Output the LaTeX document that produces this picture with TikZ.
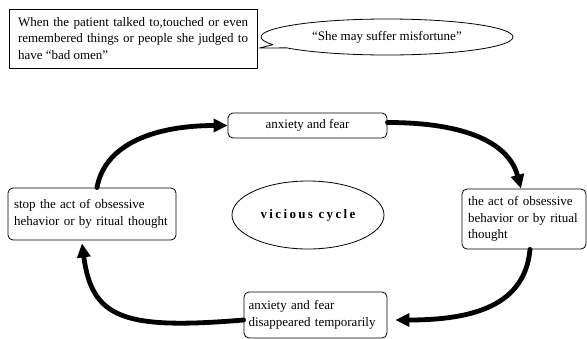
\documentclass[tikz,border=0pt]{standalone}
\usepackage{fontspec}
\setmainfont{Liberation Serif}
\usetikzlibrary{shapes.callouts,shapes.geometric,arrows.meta}

\begin{document}
\begin{tikzpicture}[x=1pt, y=-1pt, line cap=round, line join=round,
	font=\fontsize{13}{16.5}\selectfont, line width=0.8pt,
	box/.style={draw, rounded corners=5pt, align=left, inner sep=0pt},
	flow/.style={line width=4.8pt, -{Triangle[length=14pt,width=13pt]}}]
	\useasboundingbox (0,0) rectangle (587,338);
	\node[draw, inner sep=0pt, text width=230pt, align=justify,
		minimum width=248pt, minimum height=59pt] (omen) at (133,38.5)
		{When the patient talked to,touched or even remembered things or people she judged to have “bad omen”};
	\node[draw, ellipse callout, inner sep=0pt, minimum width=252pt, minimum height=36pt,
		callout pointer arc=12, callout absolute pointer={([xshift=2pt,yshift=-9.5pt]omen.east)}] (thought) at (387,37)
		{“She may suffer misfortune”};
	\node[box, align=center, minimum width=159pt, minimum height=25pt] (fear) at (307.5,125.5) {anxiety and fear};
	\node[box, text width=156pt, minimum width=168pt, minimum height=52pt] (stop) at (92,214)
		{stop the act of obsessive\\hehavior or by ritual thought};
	\node[box, text width=112pt, minimum width=124pt, minimum height=60pt] (act) at (524,219)
		{the act of obsessive\\behavior or by ritual\\thought};
	\node[box, text width=134pt, minimum width=143pt, minimum height=46pt] (gone) at (315.5,315)
		{anxiety and fear\\disappeared temporarily};
	\node[draw, ellipse, inner sep=0pt, minimum width=152pt, minimum height=68pt,
		font=\fontsize{13}{16}\selectfont\bfseries\addfontfeature{LetterSpace=18}] (cycle) at (308,215) {vicious cycle};
	% the cycle
	\draw[flow] ([xshift=5pt]stop.north) .. controls +(8,-45) and +(-70,0) .. (fear.west);
	\draw[flow] ([yshift=3pt]fear.east) .. controls +(80,0) and +(-12,-45) .. ([xshift=-3pt]act.north);
	\draw[flow] ([xshift=6pt]act.south) .. controls +(-5,55) and +(80,0) .. ([xshift=8pt,yshift=-5pt]gone.east);
	\draw[flow] ([yshift=-5pt]gone.west) .. controls +(-120,10) and +(10,75) .. ([xshift=-10pt,yshift=-3pt]stop.south);
\end{tikzpicture}
\end{document}
